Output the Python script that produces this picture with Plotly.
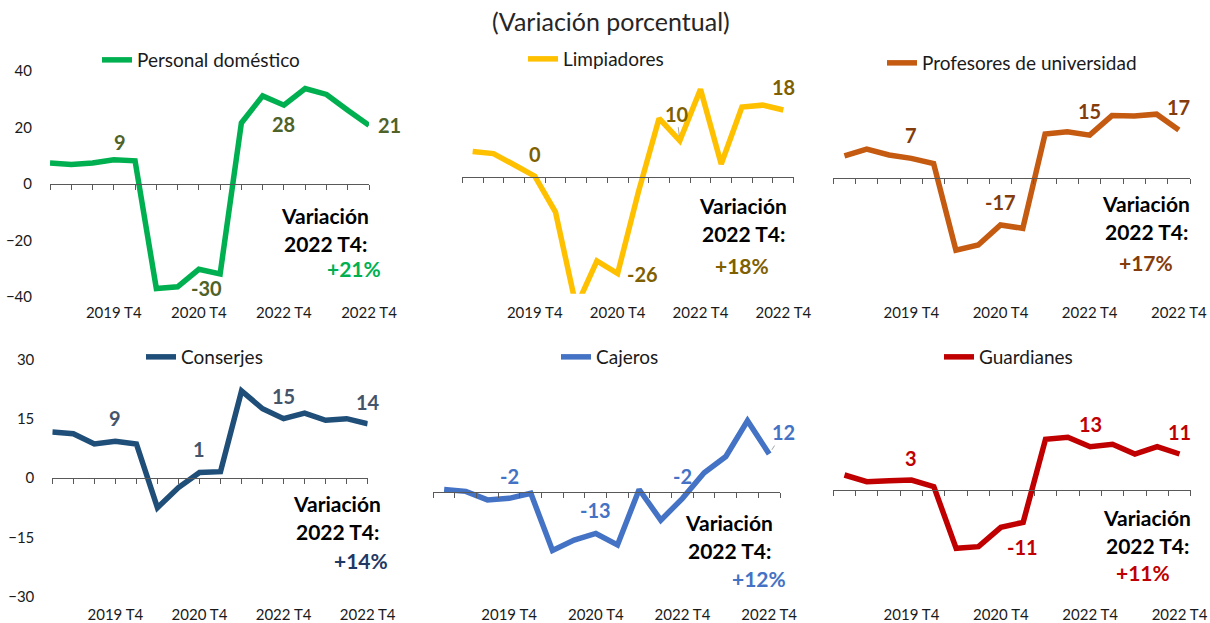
import plotly.graph_objects as go

FONT = "Lato"
W, H = 1210, 623

# ---------------- data ----------------
quarter_index = list(range(16))          # 2019 T1 ... 2022 T4
tick_positions = [3, 7, 11, 15]
tick_labels = ["2019 T4", "2020 T4", "2022 T4", "2022 T4"]

personal_domestico = [7.4, 6.9, 7.4, 8.6, 8.2, -37.0, -36.4, -30.2, -31.8, 21.6, 31.2, 27.9, 33.8, 31.7, 26.1, 20.8]
limpiadores = [7.0, 6.4, 3.4, 0.3, -9.4, -35.0, -22.6, -26.0, -4.0, 15.9, 9.9, 23.8, 3.6, 19.0, 19.5, 18.2]
profesores_univ = [7.9, 10.3, 8.2, 7.0, 5.2, -25.4, -23.6, -16.5, -17.7, 15.6, 16.4, 15.2, 22.1, 22.0, 22.6, 17.0]
conserjes = [11.6, 11.2, 8.6, 9.3, 8.6, -7.5, -2.4, 1.4, 1.6, 22.0, 17.5, 15.0, 16.4, 14.6, 15.0, 13.7]
cajeros = [0.8, 0.2, -2.5, -2.0, -0.4, -18.5, -15.2, -13.1, -16.7, 0.8, -8.9, -2.0, 6.1, 11.2, 22.5, 12.0]
guardianes = [4.5, 2.5, 2.8, 3.0, 1.0, -17.5, -17.0, -11.2, -9.7, 15.2, 15.8, 13.0, 13.7, 10.8, 13.0, 10.8]

series_names = ["Personal doméstico", "Limpiadores", "Profesores de universidad",
                "Conserjes", "Cajeros", "Guardianes"]
series_values = [personal_domestico, limpiadores, profesores_univ, conserjes, cajeros, guardianes]
label_indices = [[3, 7, 11, 15], [3, 7, 10, 15], [3, 7, 11, 15],
                 [3, 7, 11, 15], [3, 7, 11, 15], [3, 7, 11, 15]]
label_texts = [["9", "-30", "28", "21"], ["0", "-26", "10", "18"], ["7", "-17", "15", "17"],
               ["9", "1", "15", "14"], ["-2", "-13", "-2", "12"], ["3", "-11", "13", "11"]]
variation_texts = ["+21%", "+18%", "+17%", "+14%", "+12%", "+11%"]

# ---------------- styles ----------------
line_colors = ["#00B050", "#FFC000", "#C55A11", "#1F4E79", "#4472C4", "#C00000"]
label_colors = ["#4F6228", "#7F6000", "#843C0C", "#44546A", "#4472C4", "#C00000"]
pct_colors = ["#00B050", "#7F6000", "#843C0C", "#1F3864", "#4472C4", "#C00000"]

def px_x(v):
    return v / W

def py_y(v):
    return 1 - v / H

# panel geometry (page pixels)
panels = [
    dict(x0=50, x1=369, yt=71, yb=297, xr=[0, 15], yr=[-40, 40], between=False, label_y=302),
    dict(x0=462.3, x1=793.7, yt=60.75, yb=293.85, xr=[-0.5, 15.5], yr=[-31.5, 31.5], between=True, label_y=302),
    dict(x0=833.3, x1=1190, yt=64.9, yb=291.5, xr=[-0.5, 15.5], yr=[-40, 40], between=True, label_y=302),
    dict(x0=52.3, x1=367.7, yt=359.3, yb=596.7, xr=[0, 15], yr=[-30, 30], between=False, label_y=604),
    dict(x0=433.3, x1=780, yt=397, yb=587, xr=[-0.5, 15.5], yr=[-30, 30], between=True, label_y=604),
    dict(x0=833.3, x1=1190.7, yt=390, yb=590, xr=[-0.5, 15.5], yr=[-30, 30], between=True, label_y=604),
]

# legend positions (page pixels: left x, center y)
legend_pos = [(97, 60), (523, 59), (882, 63), (141, 357), (556, 357), (939, 357)]

# data label offsets (pixels: dx right, dy up)
label_shifts = [
    [(6, 18), (8, -19), (0, -19), (20, 0)],
    [(0, 22), (25, 0), None, (0, 23)],
    [(0, 23), (0, 23), (0, 24), (0, 23)],
    [(0, 23), (0, 23), (0, 23), (0, 22)],
    [(0, 22), (0, 23), (0, 22), None],
    [(0, 22), (22, -20), (0, 23), (0, 22)],
]
leader_labels = {(1, 2): (-3, -27), (4, 3): (14, -22)}

var_pos = [((325, 215), (354, 268)), ((743, 205), (742, 265)), ((1146, 203), (1146, 262)),
           ((337, 503), (361, 560)), ((729, 522), (759, 578)), ((1147, 517), (1143, 572))]

fig = go.Figure()
layout = dict(
    width=W, height=H,
    margin=dict(l=0, r=0, t=0, b=0, pad=0, autoexpand=False),
    paper_bgcolor="white", plot_bgcolor="rgba(0,0,0,0)",
    font=dict(family=FONT, color="#1a1a1a"),
    annotations=[],
)

for i, (p, name, vals) in enumerate(zip(panels, series_names, series_values)):
    n = i + 1
    xa = "x" if n == 1 else f"x{n}"
    ya = "y" if n == 1 else f"y{n}"
    xl = f"x{n + 6}"
    leg = "legend" if n == 1 else f"legend{n}"
    dom_x = [px_x(p["x0"]), px_x(p["x1"])]
    dom_y = [py_y(p["yb"]), py_y(p["yt"])]
    y0, y1 = p["yr"]
    zero_pos = dom_y[0] + (0 - y0) / (y1 - y0) * (dom_y[1] - dom_y[0])

    fig.add_trace(go.Scatter(
        x=quarter_index, y=vals, mode="lines", name=name,
        line=dict(color=line_colors[i], width=5.5),
        xaxis=xa, yaxis=ya, legend=leg, showlegend=True,
        hoverinfo="skip",
    ))
    fig.add_trace(go.Scatter(
        x=quarter_index, y=[None] * len(quarter_index), mode="lines",
        xaxis=xl, yaxis=ya, showlegend=False, hoverinfo="skip",
    ))

    tick0 = -0.5 if p["between"] else 0
    layout[f"xaxis{n}"] = dict(
        domain=dom_x, range=p["xr"], anchor="free", position=zero_pos, automargin=False,
        showgrid=False, zeroline=False, showline=True, linecolor="#595959", linewidth=1,
        ticks="outside", ticklen=5, tickcolor="#595959", tickwidth=1,
        tickmode="linear", tick0=tick0, dtick=1, showticklabels=False,
    )
    layout[f"xaxis{n + 6}"] = dict(
        overlaying=xa, range=p["xr"], anchor="free", position=py_y(p["label_y"]), automargin=False,
        showgrid=False, zeroline=False, showline=False, ticks="",
        tickmode="array", tickvals=tick_positions, ticktext=tick_labels,
        tickfont=dict(family=FONT, size=15, color="#1a1a1a"),
    )
    show_y = n in (1, 4)
    layout[f"yaxis{n}"] = dict(
        domain=dom_y, range=p["yr"], anchor=xa, automargin=False,
        showgrid=False, zeroline=False, showline=False,
        showticklabels=show_y, tickmode="linear", tick0=0,
        dtick=20 if n == 1 else 15,
        ticks="outside" if show_y else "", ticklen=14, tickcolor="rgba(0,0,0,0)",
        tickfont=dict(family=FONT, size=15, color="#1a1a1a"),
    )

    lx, lyc = legend_pos[i]
    layout[leg] = dict(
        x=px_x(lx), y=py_y(lyc), xanchor="left", yanchor="middle",
        bgcolor="rgba(0,0,0,0)", borderwidth=0,
        font=dict(family=FONT, size=19, color="#1a1a1a"),
        itemwidth=30, tracegroupgap=0,
    )

    for k, (idx, txt) in enumerate(zip(label_indices[i], label_texts[i])):
        key = (i, k)
        if key in leader_labels:
            ax, ay = leader_labels[key]
            layout["annotations"].append(dict(
                x=idx, y=vals[idx], xref=xa, yref=ya, text=f"<b>{txt}</b>",
                showarrow=True, ax=ax, ay=ay, axref="pixel", ayref="pixel",
                arrowhead=0, arrowwidth=1, arrowcolor="#A6A6A6", standoff=5,
                font=dict(family=FONT, size=20, color=label_colors[i]),
            ))
        else:
            dx, dy = label_shifts[i][k]
            layout["annotations"].append(dict(
                x=idx, y=vals[idx], xref=xa, yref=ya, text=f"<b>{txt}</b>",
                showarrow=False, xshift=dx, yshift=dy,
                font=dict(family=FONT, size=20, color=label_colors[i]),
            ))

    (vx, vy), (qx, qy) = var_pos[i]
    layout["annotations"].append(dict(
        x=px_x(vx), y=py_y(vy), xref="paper", yref="paper",
        text="<b>Variación</b>", showarrow=False, xanchor="center", yanchor="middle",
        font=dict(family=FONT, size=21, color="#000000"),
    ))
    layout["annotations"].append(dict(
        x=px_x(vx), y=py_y(vy + 28), xref="paper", yref="paper",
        text="<b>2022 T4:</b>", showarrow=False, xanchor="center", yanchor="middle",
        font=dict(family=FONT, size=21, color="#000000"),
    ))
    layout["annotations"].append(dict(
        x=px_x(qx), y=py_y(qy), xref="paper", yref="paper",
        text=f"<b>{variation_texts[i]}</b>", showarrow=False, xanchor="center", yanchor="middle",
        font=dict(family=FONT, size=21, color=pct_colors[i]),
    ))

layout["annotations"].append(dict(
    x=px_x(611), y=py_y(21), xref="paper", yref="paper",
    text="(Variación porcentual)", showarrow=False, xanchor="center", yanchor="middle",
    font=dict(family=FONT, size=25, color="#262626"),
))

fig.update_layout(**layout)
fig.write_html("out.html",
               config={"displayModeBar": False},
               post_script="document.body.style.margin='0';document.body.style.overflow='hidden';")
